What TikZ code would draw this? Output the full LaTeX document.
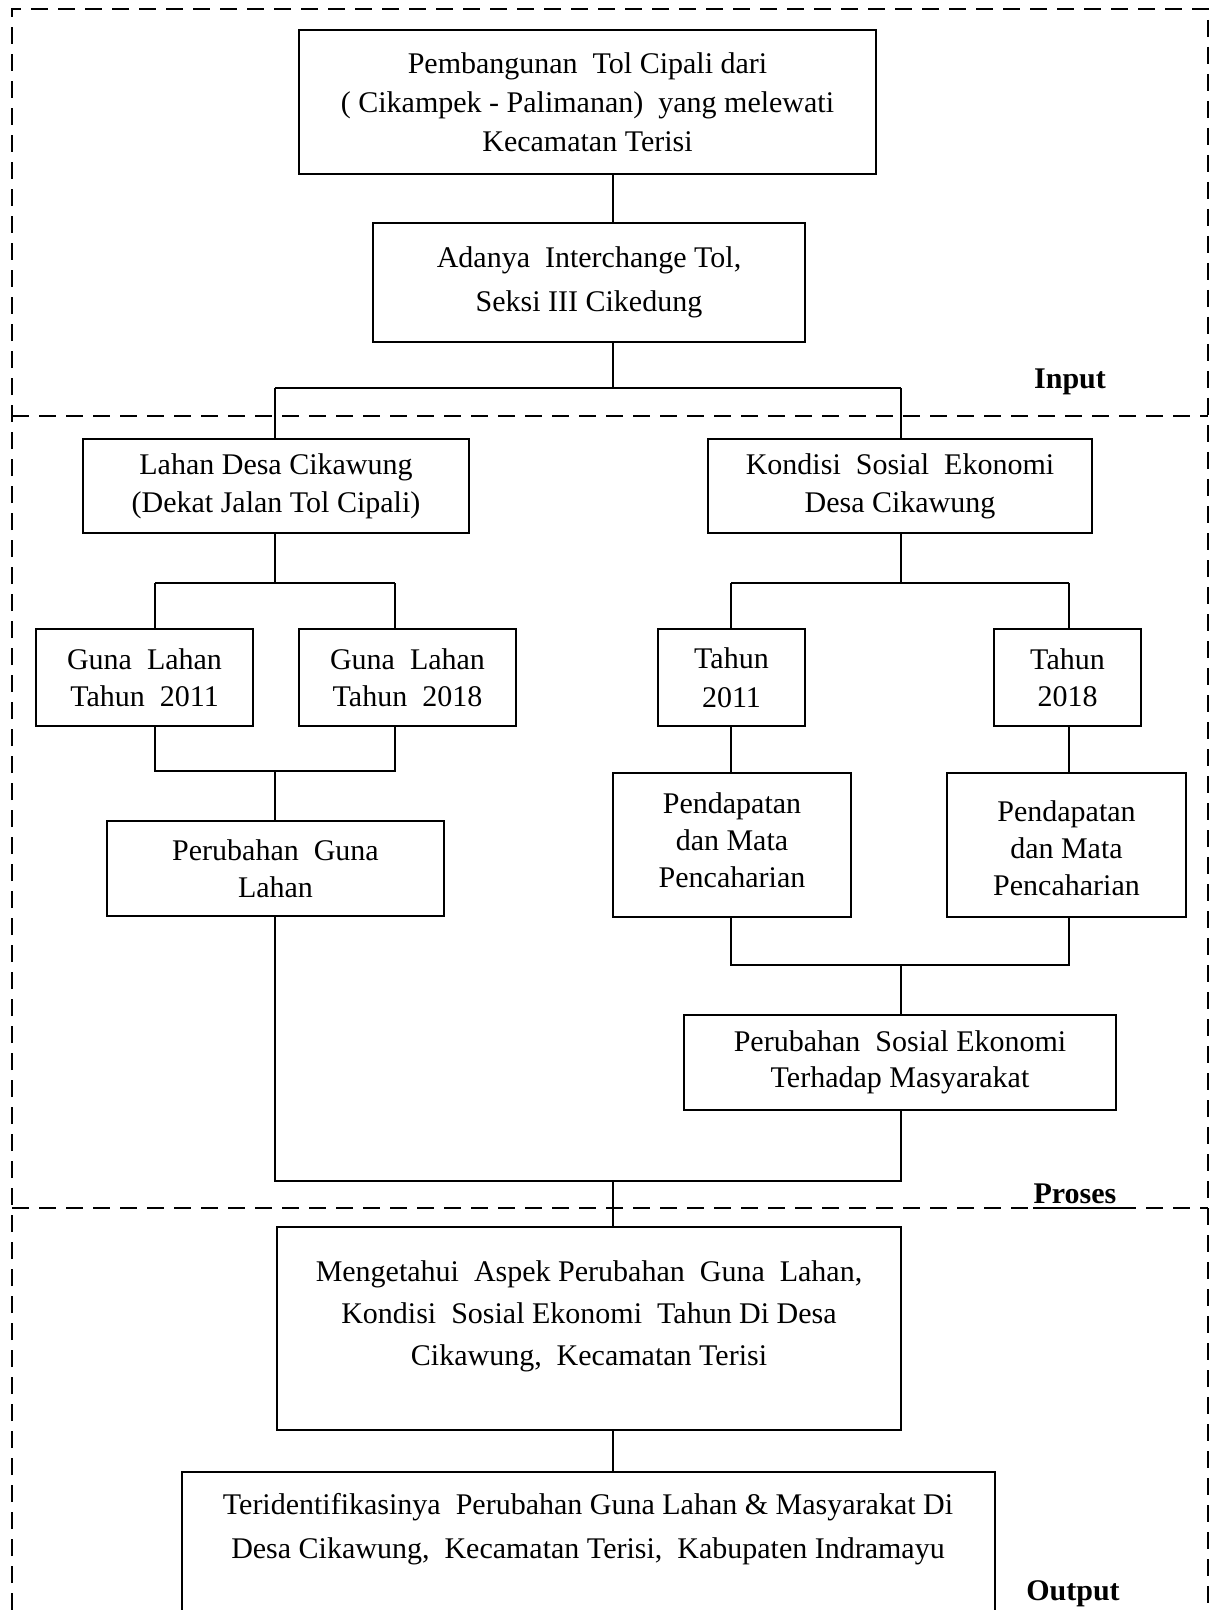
\documentclass[tikz,border=0pt]{standalone}
\usepackage{fontspec}
\setmainfont{Liberation Serif}
\begin{document}
\begin{tikzpicture}[x=0.5pt,y=-0.5pt,
  box/.style={draw,line width=1.4pt,inner sep=0pt,align=center,font=\fontsize{15}{19}\selectfont},
  txt/.style={inner sep=0pt,align=center,font=\fontsize{15}{19}\selectfont},
  conn/.style={line width=1pt},
  frame/.style={line width=1.3pt,dash pattern=on 8.5pt off 5pt},
  lbl/.style={inner sep=0pt,anchor=base,font=\fontsize{15}{18}\selectfont\bfseries}]
\useasboundingbox (0,0) rectangle (1211,1610);
% frame
\draw[frame] (12,1610) -- (12,9) -- (1208,9) -- (1208,1610);
\draw[frame] (12,416) -- (1208,416);
\draw[frame] (12,1208) -- (1208,1208);
% boxes
\node[box,minimum width=288.5pt,minimum height=72pt,font=\fontsize{15}{19.5}\selectfont] (b1) at (587.5,102)
  {Pembangunan~~Tol Cipali dari\\( Cikampek - Palimanan)~~yang melewati\\Kecamatan Terisi};
\node[box,minimum width=216pt,minimum height=59.5pt,font=\fontsize{15}{22}\selectfont] (b2) at (589,282.5)
  {Adanya~~Interchange~Tol,\\Seksi III Cikedung};
\node[box,minimum width=193pt,minimum height=47pt] (b3) at (276,486)
  {Lahan~Desa~Cikawung\\(Dekat Jalan Tol Cipali)};
\node[box,minimum width=192pt,minimum height=47pt] (b4) at (900,486)
  {Kondisi~~Sosial~~Ekonomi\\Desa Cikawung};
\node[box,minimum width=108.5pt,minimum height=48.5pt,font=\fontsize{15}{18.5}\selectfont] (b5) at (144.5,677.5)
  {Guna~~Lahan\\Tahun~~2011};
\node[box,minimum width=108.5pt,minimum height=48.5pt,font=\fontsize{15}{18.5}\selectfont] (b6) at (407.5,677.5)
  {Guna~~Lahan\\Tahun~~2018};
\node[box,minimum width=168.5pt,minimum height=47.5pt,font=\fontsize{15}{18.5}\selectfont] (b7) at (275.5,868.5)
  {Perubahan~~Guna\\Lahan};
\node[box,minimum width=73.5pt,minimum height=48.5pt,font=\fontsize{15}{19.5}\selectfont] (b8) at (731.5,677.5)
  {Tahun\\2011};
\node[box,minimum width=73.5pt,minimum height=48.5pt,font=\fontsize{15}{18.5}\selectfont] (b9) at (1067.5,677.5)
  {Tahun\\2018};
\node[box,minimum width=119pt,minimum height=72pt] (b10) at (732,845) {};
\node[txt,font=\fontsize{15}{18.5}\selectfont] (b10t) at (732,840) {Pendapatan\\dan Mata\\Pencaharian};
\node[box,minimum width=119.5pt,minimum height=72pt] (b11) at (1066.5,845) {};
\node[txt,font=\fontsize{15}{18.5}\selectfont] (b11t) at (1066.5,848) {Pendapatan\\dan Mata\\Pencaharian};
\node[box,minimum width=216pt,minimum height=47.5pt,font=\fontsize{15}{18}\selectfont] (b12) at (900,1062.5)
  {Perubahan~~Sosial~Ekonomi\\Terhadap~Masyarakat};
\node[box,minimum width=312pt,minimum height=101.5pt] (b13) at (589,1328.5) {};
\node[txt,font=\fontsize{15}{21}\selectfont] (b13t) at (589,1316)
  {Mengetahui~~Aspek~Perubahan~~Guna~~Lahan,\\Kondisi~~Sosial~Ekonomi~~Tahun~Di~Desa\\Cikawung,~~Kecamatan~Terisi};
\coordinate (b14top) at (613,1472);
\draw[line width=1.4pt] (182,1610) -- (182,1472) -- (995,1472) -- (995,1610);
\node[txt,font=\fontsize{15}{22}\selectfont] (b14t) at (588,1529)
  {Teridentifikasinya~~Perubahan~Guna~Lahan~\&~Masyarakat~Di\\Desa~Cikawung,~~Kecamatan~Terisi,~~Kabupaten~Indramayu};
% labels
\node[lbl] (lin) at (1070,388) {Input};
\node[lbl] (lpr) at (1075,1203) {Proses};
\draw[line width=1.3pt] (lpr.base west) ++(0,5) -- ++(88,0);
\node[lbl] (lout) at (1073,1600) {Output};
% connectors
\coordinate (cA) at (613,388);
\coordinate (cAl) at (275,388);
\coordinate (cAr) at (901,388);
\draw[conn] (b1.south -| cA) -- (b2.north -| cA);
\draw[conn] (b2.south -| cA) -- (cA);
\draw[conn] (cAl) -- (cAr);
\draw[conn] (cAl) -- (b3.north -| cAl);
\draw[conn] (cAr) -- (b4.north -| cAr);
\coordinate (cB) at (275,583);
\coordinate (cBl) at (155,583);
\coordinate (cBr) at (395,583);
\draw[conn] (b3.south -| cB) -- (cB);
\draw[conn] (cBl) -- (cBr);
\draw[conn] (cBl) -- (b5.north -| cBl);
\draw[conn] (cBr) -- (b6.north -| cBr);
\coordinate (cC) at (275,771);
\coordinate (cCl) at (155,771);
\coordinate (cCr) at (395,771);
\draw[conn] (b5.south -| cCl) -- (cCl) -- (cCr) -- (b6.south -| cCr);
\draw[conn] (cC) -- (b7.north -| cC);
\coordinate (cD) at (901,583);
\coordinate (cDl) at (731,583);
\coordinate (cDr) at (1069,583);
\draw[conn] (b4.south -| cD) -- (cD);
\draw[conn] (cDl) -- (cDr);
\draw[conn] (cDl) -- (b8.north -| cDl);
\draw[conn] (cDr) -- (b9.north -| cDr);
\draw[conn] (b8.south -| cDl) -- (b10.north -| cDl);
\draw[conn] (b9.south -| cDr) -- (b11.north -| cDr);
\coordinate (cE) at (901,965);
\coordinate (cEl) at (731,965);
\coordinate (cEr) at (1069,965);
\draw[conn] (b10.south -| cEl) -- (cEl) -- (cEr) -- (b11.south -| cEr);
\draw[conn] (cE) -- (b12.north -| cE);
\coordinate (cF) at (613,1181);
\coordinate (cFl) at (275,1181);
\coordinate (cFr) at (901,1181);
\draw[conn] (b7.south -| cFl) -- (cFl) -- (cFr) -- (b12.south -| cFr);
\draw[conn] (cF) -- (b13.north -| cF);
\draw[conn] (b13.south -| cF) -- (b14top);
\end{tikzpicture}
\end{document}
